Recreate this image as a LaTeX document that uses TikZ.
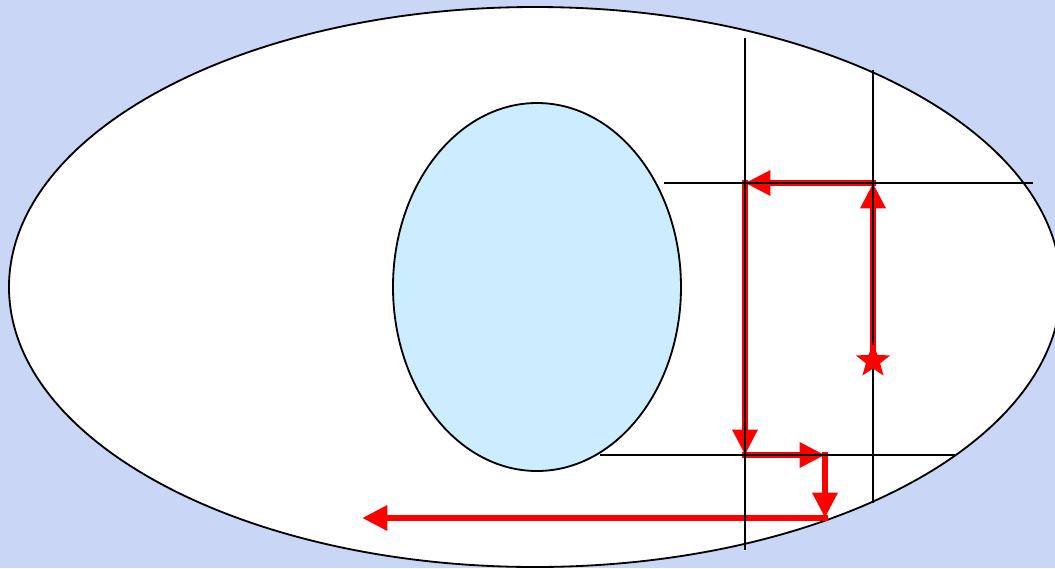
\documentclass[tikz,border=0pt]{standalone}
\usepackage{xcolor}
\usepackage{tikz}
\usetikzlibrary{arrows.meta,shapes.geometric}
\definecolor{bgblue}{RGB}{202,214,246}
\definecolor{paleblue}{RGB}{204,236,255}

\begin{document}
\begin{tikzpicture}[x=0.025cm, y=-0.025cm,
    route/.style={red, line width=4.9pt, line cap=rect, -{Triangle[length=18pt,width=17pt]}},
    gridline/.style={black, line width=1.3pt}]
    \useasboundingbox (0,0) rectangle (1055,568);
    \clip (0,0) rectangle (1055,568);
    \fill[bgblue] (0,0) rectangle (1055,568);
    % outer and inner region
    \draw[fill=white, line width=1.3pt] (535,287) ellipse (526 and 280);
    \draw[fill=paleblue, line width=1.3pt] (537,287) ellipse (144 and 184);
    % corners of the route
    \coordinate (start) at (873,361);
    \coordinate (tr) at (873,183);
    \coordinate (tl) at (745,183);
    \coordinate (bl) at (745,455);
    \coordinate (bm) at (825,455);
    \coordinate (low) at (825,518);
    \coordinate (exit) at (362,518);
    \draw[route] (start) -- (tr);
    \draw[route] (tr) -- (tl);
    \draw[route] (tl) -- (bl);
    \draw[route] (bl) -- (bm);
    \draw[route] (bm) -- (low);
    \draw[route] (low) -- (exit);
    % grid
    \foreach \x/\ya/\yb in {745/38/550, 873/70/503}{
      \draw[gridline] (\x,\ya) -- (\x,\yb);
    }
    \foreach \y/\xa/\xb in {183/664/1033, 455/600/955}{
      \draw[gridline] (\xa,\y) -- (\xb,\y);
    }
    \node[star, star points=5, star point ratio=2.4, fill=red, minimum size=0.9cm, inner sep=0pt] (goal) at (start) {};
\end{tikzpicture}
\end{document}
